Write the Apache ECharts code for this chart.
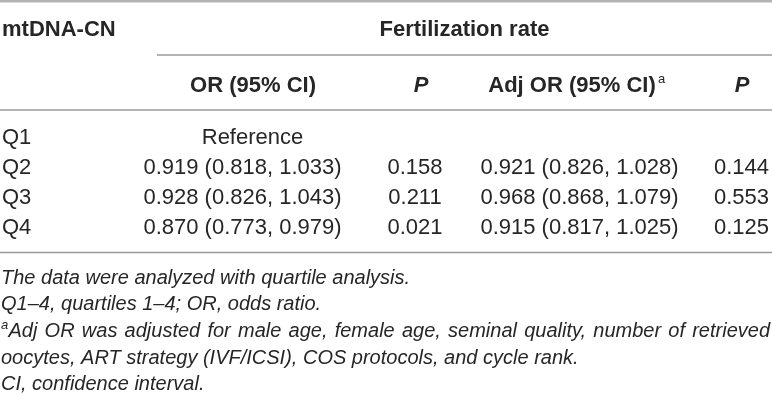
<!DOCTYPE html>
<html>
<head>
<meta charset="utf-8">
<script src="https://cdn.jsdelivr.net/npm/echarts@6/dist/echarts.min.js"></script>
<style>
html,body{margin:0;padding:0;background:#fff;}
#chart{width:772px;height:400px;}
</style>
</head>
<body>
<div id="chart"></div>
<script>
// ---- data ----
const quartiles = ['Q1', 'Q2', 'Q3', 'Q4'];
const orValue = [null, 0.919, 0.928, 0.870];
const orLow   = [null, 0.818, 0.826, 0.773];
const orHigh  = [null, 1.033, 1.043, 0.979];
const pValue  = [null, 0.158, 0.211, 0.021];
const adjOrValue = [null, 0.921, 0.968, 0.915];
const adjOrLow   = [null, 0.826, 0.868, 0.817];
const adjOrHigh  = [null, 1.028, 1.079, 1.025];
const adjPValue  = [null, 0.144, 0.553, 0.125];
const referenceLabel = 'Reference';
const groupHeader = 'Fertilization rate';
const rowHeader = 'mtDNA-CN';
const columnHeaders = ['OR (95% CI)', 'P', 'Adj OR (95% CI)', 'P'];
const footnotes = [
  'The data were analyzed with quartile analysis.',
  'Q1\u20134, quartiles 1\u20134; OR, odds ratio.',
  'Adj OR was adjusted for male age, female age, seminal quality, number of retrieved',
  'oocytes, ART strategy (IVF/ICSI), COS protocols, and cycle rank.',
  'CI, confidence interval.'
];

// ---- layout ----
const W = 772;
const colX = [2, 242.5, 415, 579.5, 741.5];      // column anchors (px on hidden x axis)
const colAlign = ['left', 'center', 'center', 'center', 'center'];
const refX = 252.5;
const headX = [253, 421, 572, 742];
const textColor = '#262626';
const ruleColor = '#9a9a9a';
const bodyFont = '22px "Liberation Sans", Arial, sans-serif';
const boldFont = 'bold 22px "Liberation Sans", Arial, sans-serif';
const boldItalicFont = 'italic bold 22px "Liberation Sans", Arial, sans-serif';
const noteFont = 'italic 20px "Liberation Sans", Arial, sans-serif';

const f3 = v => v.toFixed(3);
function cellText(r, c) {
  if (c === 0) return quartiles[r];
  if (orValue[r] === null) return c === 1 ? referenceLabel : '';
  if (c === 1) return f3(orValue[r]) + ' (' + f3(orLow[r]) + ', ' + f3(orHigh[r]) + ')';
  if (c === 2) return f3(pValue[r]);
  if (c === 3) return f3(adjOrValue[r]) + ' (' + f3(adjOrLow[r]) + ', ' + f3(adjOrHigh[r]) + ')';
  return f3(adjPValue[r]);
}
const cells = [];
quartiles.forEach((q, r) => { for (let c = 0; c < 5; c++) cells.push([c, r]); });

// ---- graphic: rules, headers, footnotes ----
const graphics = [];
function line(x1, y, x2, w, col) {
  graphics.push({type: 'line', silent: true, shape: {x1: x1, y1: y, x2: x2, y2: y}, style: {stroke: col, lineWidth: w}});
}
function text(t, x, y, font, align, col) {
  graphics.push({type: 'text', silent: true, x: x, y: y,
    style: {text: t, font: font, fill: col || textColor, align: align, verticalAlign: 'middle', textAlign: align, textVerticalAlign: 'middle'}});
}
line(0, 1.2, W, 2.5, '#b4b4b4');
line(157, 55, W, 1.6, ruleColor);
line(0, 110, W, 1.6, ruleColor);
line(0, 252.5, W, 1.6, ruleColor);

text(rowHeader, 2, 30, boldFont, 'left');
text(groupHeader, 464.5, 30, boldFont, 'center');
text(columnHeaders[0], headX[0], 86, boldFont, 'center');
text(columnHeaders[1], headX[1], 86, boldItalicFont, 'center');
text(columnHeaders[2], headX[2], 86, boldFont, 'center');
text('a', 658, 79, '13px "Liberation Sans", Arial, sans-serif', 'left');
text(columnHeaders[3], headX[3], 86, boldItalicFont, 'center');

// footnotes
const noteY0 = 278, noteDy = 26.7;
const mctx = document.createElement('canvas').getContext('2d');
mctx.font = noteFont;
footnotes.forEach((t, i) => {
  const y = noteY0 + i * noteDy;
  if (i === 2) {
    text('a', 1, y - 6, 'italic 13px "Liberation Sans", Arial, sans-serif', 'left');
    const words = t.split(' ');
    const widths = words.map(w => mctx.measureText(w).width);
    const total = widths.reduce((a, b) => a + b, 0);
    const x0 = 8.5, x1 = 770;
    const gap = (x1 - x0 - total) / (words.length - 1);
    let x = x0;
    words.forEach((w, k) => { text(w, x, y, noteFont, 'left'); x += widths[k] + gap; });
  } else {
    text(t, 1, y, noteFont, 'left');
  }
});

// ---- chart ----
const chart = echarts.init(document.getElementById('chart'), null, {renderer: 'canvas'});
chart.setOption({
  animation: false,
  backgroundColor: '#ffffff',
  grid: {left: 0, right: 0, top: 123, height: 120},
  xAxis: {type: 'value', min: 0, max: W, show: false},
  yAxis: {type: 'category', data: quartiles, inverse: true, show: false},
  graphic: graphics,
  series: [{
    type: 'custom',
    data: cells,
    renderItem: function (params, api) {
      const c = api.value(0), r = api.value(1);
      const t = cellText(r, c);
      const isRef = (c === 1 && orValue[r] === null);
      const pt = api.coord([isRef ? refX : colX[c], r]);
      return {
        type: 'text', x: pt[0], y: pt[1],
        style: {text: t, font: bodyFont, fill: textColor, align: colAlign[c], verticalAlign: 'middle',
                textAlign: colAlign[c], textVerticalAlign: 'middle'}
      };
    }
  }]
});
</script>
</body>
</html>
